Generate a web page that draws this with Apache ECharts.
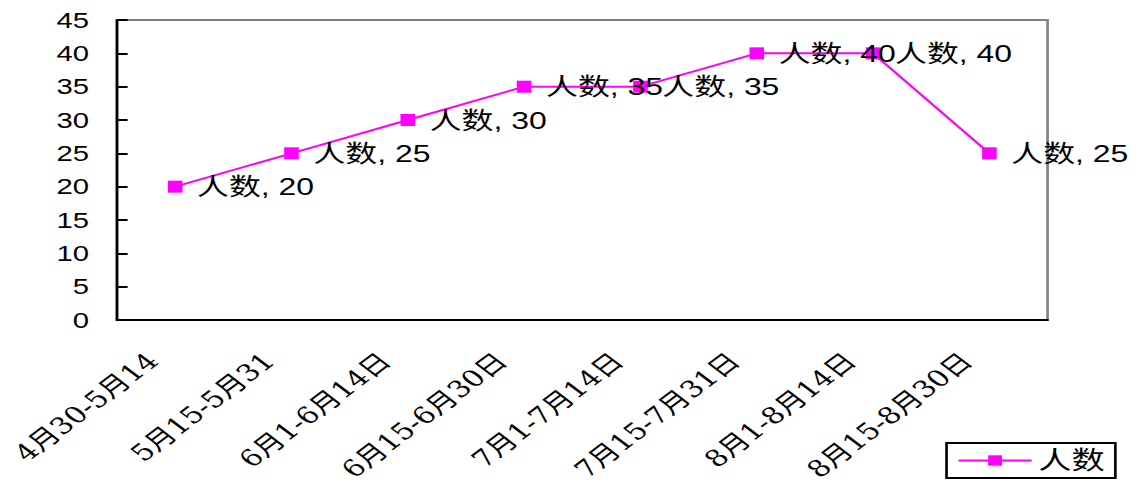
<!DOCTYPE html>
<html>
<head>
<meta charset="utf-8">
<script src="https://cdn.jsdelivr.net/npm/echarts@6/dist/echarts.min.js"></script>
<style>
  html, body { margin: 0; padding: 0; background: #fff; overflow: hidden; }
  /* the chart is laid out narrow and widened to fill the page */
  #chart { width: 856px; height: 484px; transform: scaleX(1.3294); transform-origin: 0 0; }
</style>
</head>
<body>
<div id="chart"></div>
<script>
const categories = ['4月30-5月14', '5月15-5月31', '6月1-6月14日', '6月15-6月30日',
                    '7月1-7月14日', '7月15-7月31日', '8月1-8月14日', '8月15-8月30日'];
const seriesName = '人数';
const counts = [20, 25, 30, 35, 35, 40, 40, 25];
const yTicks = { min: 0, max: 45, interval: 5 };

const MAGENTA = '#FF00FF';
const SANS = '"Liberation Sans", "Noto Sans CJK SC", sans-serif';
const SERIF = '"DejaVu Serif", "Noto Sans CJK SC", serif';

const chart = echarts.init(document.getElementById('chart'), null, { renderer: 'svg' });

chart.setOption({
  animation: false,
  backgroundColor: '#fff',
  grid: {
    left: 88, right: 68, top: 20, bottom: 164,
    outerBoundsMode: 'none',
    show: true, borderColor: '#808080', borderWidth: 2, backgroundColor: 'transparent'
  },
  legend: {
    left: 712, top: 443,
    padding: [5, 8, 5, 8],
    itemWidth: 55, itemHeight: 13,
    borderColor: '#000', borderWidth: 2,
    textStyle: { fontFamily: SERIF, fontSize: 25, color: '#000' },
    data: [seriesName]
  },
  xAxis: {
    type: 'category',
    data: categories,
    boundaryGap: true,
    axisLine: { lineStyle: { color: '#000', width: 2 } },
    axisTick: { inside: true, length: 6, lineStyle: { color: '#000', width: 2 } },
    axisLabel: {
      interval: 0, rotate: 45, margin: 20, padding: [0, 24, 0, 0],
      fontFamily: SERIF, fontSize: 23, color: '#000'
    },
    splitLine: { show: false }
  },
  yAxis: {
    type: 'value',
    min: yTicks.min, max: yTicks.max, interval: yTicks.interval,
    axisLine: { show: true, lineStyle: { color: '#000', width: 2 } },
    axisTick: { show: true, inside: true, length: 8, lineStyle: { color: '#000', width: 2 } },
    axisLabel: { margin: 21, fontFamily: SANS, fontSize: 22, color: '#000' },
    splitLine: { show: false }
  },
  series: [{
    name: seriesName,
    type: 'line',
    data: counts,
    symbol: 'rect',
    symbolSize: [11, 12],
    itemStyle: { color: MAGENTA },
    lineStyle: { color: MAGENTA, width: 2 },
    label: {
      show: true, position: 'right', distance: 11,
      formatter: '{a}, {c}',
      fontFamily: SANS, fontSize: 24, color: '#000'
    }
  }]
});
</script>
</body>
</html>
